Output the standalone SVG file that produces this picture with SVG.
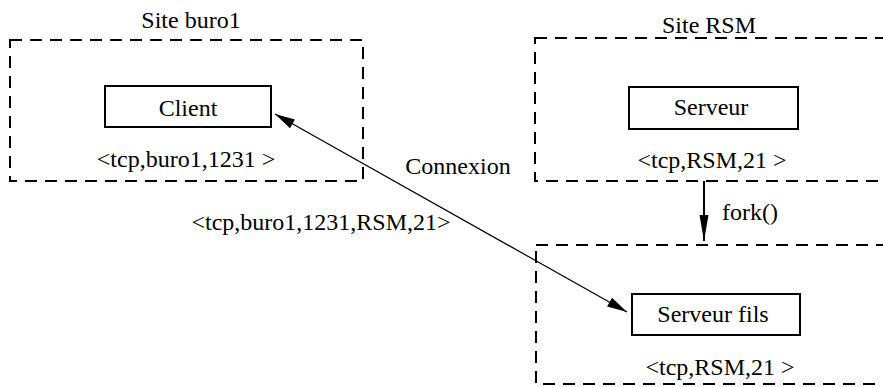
<svg xmlns="http://www.w3.org/2000/svg" width="883" height="387" viewBox="0 0 883 387">
  <style>
    .site { fill: none; stroke: #000; stroke-width: 2; stroke-dasharray: 12 8; }
    .proc { fill: #fff; stroke: #000; stroke-width: 2; }
    .lbl { font-family: 'Liberation Serif', 'Times New Roman', serif; font-size: 24px; fill: #000; text-anchor: middle; }
    .link { fill: none; stroke: #000; stroke-width: 1.2; }
    .fork { fill: none; stroke: #000; stroke-width: 2; }
  </style>
  <defs>
    <!-- filled triangular heads, drawn in user units so they keep their size -->
    <marker id="tip" markerUnits="userSpaceOnUse" markerWidth="24" markerHeight="14" viewBox="-22 -7 24 14" refX="0" refY="0" orient="auto-start-reverse">
      <path d="M0,0 L-20,-5 L-20,5 z" fill="#000"/>
    </marker>
    <marker id="forktip" markerUnits="userSpaceOnUse" markerWidth="30" markerHeight="14" viewBox="-28 -7 30 14" refX="0" refY="0" orient="auto">
      <path d="M0,0 L-26,-4.5 L-26,4.5 z" fill="#000"/>
    </marker>
  </defs>

  <g id="site-buro1">
    <rect class="site" x="10" y="40" width="353" height="141"/>
    <text class="lbl" x="191" y="28">Site buro1</text>
    <text class="lbl" x="186" y="167">&lt;tcp,buro1,1231 &gt;</text>
  </g>

  <g id="client">
    <rect class="proc" x="105" y="86" width="166" height="41"/>
    <text class="lbl" x="188" y="116">Client</text>
  </g>

  <g id="site-rsm">
    <rect class="site" x="535" y="38" width="360" height="143"/>
    <text class="lbl" x="709" y="33">Site RSM</text>
    <text class="lbl" x="712" y="168">&lt;tcp,RSM,21 &gt;</text>
  </g>

  <g id="serveur">
    <rect class="proc" x="629" y="87" width="169" height="42"/>
    <text class="lbl" x="711" y="115">Serveur</text>
  </g>

  <g id="site-fils">
    <rect class="site" x="536" y="245" width="360" height="139"/>
    <text class="lbl" x="720" y="375">&lt;tcp,RSM,21 &gt;</text>
  </g>

  <g id="serveur-fils">
    <rect class="proc" x="632" y="294" width="168" height="41"/>
    <text class="lbl" x="713" y="322">Serveur fils</text>
  </g>

  <g id="connectors">
    <line class="fork" x1="704" y1="181" x2="704" y2="241" marker-end="url(#forktip)"/>
    <text class="lbl" x="750" y="220">fork()</text>
    <line class="link" x1="275" y1="114" x2="627" y2="312" marker-start="url(#tip)" marker-end="url(#tip)"/>
    <text class="lbl" x="458" y="174">Connexion</text>
    <text class="lbl" x="321" y="230">&lt;tcp,buro1,1231,RSM,21&gt;</text>
  </g>
</svg>
